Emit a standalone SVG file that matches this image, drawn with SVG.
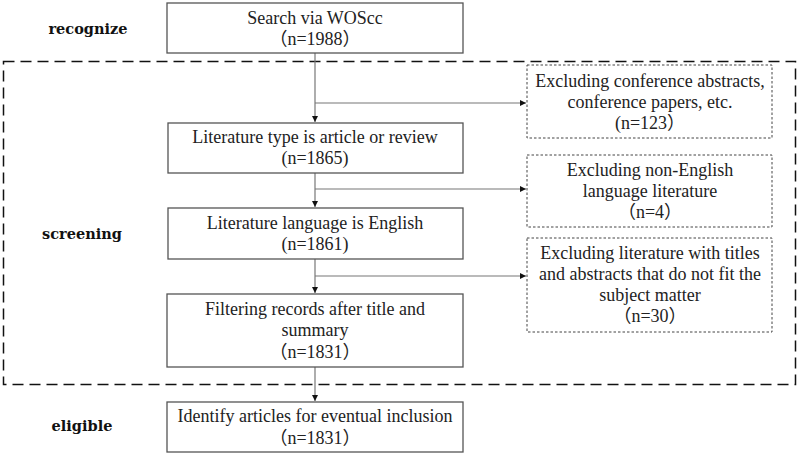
<svg xmlns="http://www.w3.org/2000/svg" width="800" height="456" viewBox="0 0 800 456">
<defs>
<marker id="ah" markerWidth="8" markerHeight="8" refX="7" refY="4" orient="auto" markerUnits="userSpaceOnUse">
<path d="M1,1 L7,4 L1,7 Z" fill="#111"/>
</marker>
</defs>
<style>
.box{fill:#fff;stroke:#555;stroke-width:1.3}
.dbox{fill:#fff;stroke:#444;stroke-width:1;stroke-dasharray:2.5 2}
.t{font-family:"Liberation Serif","Noto Sans CJK SC",serif;font-size:18px;fill:#222;text-anchor:middle}
.lab{font-family:"DejaVu Serif",serif;font-size:14.5px;font-weight:bold;fill:#111;text-anchor:middle}
.c{fill:none;stroke:#777;stroke-width:1.2}
</style>
<rect x="3.5" y="61.5" width="792" height="323" fill="none" stroke="#111" stroke-width="1.5" stroke-dasharray="11 6"/>
<text class="lab" x="88" y="34">recognize</text>
<text class="lab" x="82" y="239">screening</text>
<text class="lab" x="82" y="431">eligible</text>
<g id="connectors">
<path class="c" d="M315,53 V122" marker-end="url(#ah)"/>
<path class="c" d="M315,103 H526" marker-end="url(#ah)"/>
<path class="c" d="M315,173 V207" marker-end="url(#ah)"/>
<path class="c" d="M315,189 H526" marker-end="url(#ah)"/>
<path class="c" d="M315,259 V293" marker-end="url(#ah)"/>
<path class="c" d="M315,276 H526" marker-end="url(#ah)"/>
<path class="c" d="M315,367 V401" marker-end="url(#ah)"/>
</g>
<g id="n1">
<rect class="box" x="167" y="3" width="296" height="50"/>
<text class="t" x="315" y="24">Search via WOScc</text>
<text class="t" x="315" y="45">（n=1988）</text>
</g>
<g id="n2">
<rect class="box" x="168" y="123" width="295" height="50"/>
<text class="t" x="315" y="143">Literature type is article or review</text>
<text class="t" x="315" y="164">(n=1865)</text>
</g>
<g id="n3">
<rect class="box" x="168" y="208" width="295" height="51"/>
<text class="t" x="315" y="229">Literature language is English</text>
<text class="t" x="315" y="250">(n=1861)</text>
</g>
<g id="n4">
<rect class="box" x="167" y="294" width="296" height="73"/>
<text class="t" x="315" y="315">Filtering records after title and</text>
<text class="t" x="315" y="336">summary</text>
<text class="t" x="315" y="358">（n=1831）</text>
</g>
<g id="n5">
<rect class="box" x="167" y="402" width="296" height="50"/>
<text class="t" x="315" y="422">Identify articles for eventual inclusion</text>
<text class="t" x="315" y="444">（n=1831）</text>
</g>
<g id="e1">
<rect class="dbox" x="527" y="65" width="245" height="73"/>
<text class="t" x="650" y="87">Excluding conference abstracts,</text>
<text class="t" x="650" y="108">conference papers, etc.</text>
<text class="t" x="650" y="129">(n=123）</text>
</g>
<g id="e2">
<rect class="dbox" x="527" y="155" width="245" height="72"/>
<text class="t" x="650" y="176">Excluding non-English</text>
<text class="t" x="650" y="197">language literature</text>
<text class="t" x="650" y="218">（n=4）</text>
</g>
<g id="e3">
<rect class="dbox" x="527" y="238" width="245" height="94"/>
<text class="t" x="650" y="259">Excluding literature with titles</text>
<text class="t" x="650" y="280">and abstracts that do not fit the</text>
<text class="t" x="650" y="301">subject matter</text>
<text class="t" x="650" y="322">（n=30）</text>
</g>
</svg>
